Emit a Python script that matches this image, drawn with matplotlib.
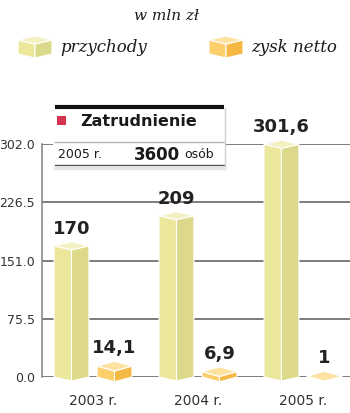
import numpy as np
import matplotlib
matplotlib.use('Agg')
import matplotlib.pyplot as plt
from matplotlib.patches import Polygon, Rectangle

years = ['2003 r.', '2004 r.', '2005 r.']
przychody = [170, 209, 301.6]
zysk = [14.1, 6.9, 1]
przychody_lbl = ['170', '209', '301,6']
zysk_lbl = ['14,1', '6,9', '1']
yticks = [0.0, 75.5, 151.0, 226.5, 302.0]

col_p = ('#ebe79b', '#dcd98a', '#f3f0c2')   # front, side, top
col_z = ('#fccf6a', '#f4b843', '#fde2a0')


def prism(ax, c, hw, y0, y1, d, cols, tr=None, z=3):
    tr = tr if tr is not None else ax.transData
    front, side, top = cols
    left = [(c - hw, y0), (c, y0 - d), (c, y1 - d), (c - hw, y1)]
    right = [(c, y0 - d), (c + hw, y0), (c + hw, y1), (c, y1 - d)]
    cap = [(c - hw, y1), (c, y1 - d), (c + hw, y1), (c, y1 + d)]
    for pts, fc in ((left, front), (right, side), (cap, top)):
        ax.add_patch(Polygon(pts, closed=True, fc=fc, ec='white', lw=0.8,
                             transform=tr, clip_on=False, zorder=z))


fig = plt.figure(figsize=(3.5, 4.13), dpi=100)
ax = fig.add_axes([42 / 350, 36 / 413, 308 / 350, 233 / 413])
ax.set_xlim(-0.486, 2.448)
ax.set_ylim(0, 302)
for s in ['top', 'right', 'bottom']:
    ax.spines[s].set_visible(False)
ax.spines['left'].set_color('#8a8a8a')
ax.spines['left'].set_linewidth(1.2)
ax.set_yticks(yticks)
ax.set_yticklabels(['%.1f' % t for t in yticks], fontsize=9, color='#333333')
ax.tick_params(axis='y', length=0, pad=5)
ax.set_xticks(range(len(years)))
ax.set_xticklabels(years, fontsize=10, color='#333333')
ax.tick_params(axis='x', length=0, pad=12)
for t in yticks:
    ax.axhline(t, color='#666666', lw=1.2, zorder=1)

x = np.arange(len(years))
off = 0.205
hw = 0.166
d = 5.2
for i in range(len(years)):
    prism(ax, x[i] - off, hw, 0, przychody[i], d, col_p)
    prism(ax, x[i] + off, hw, 0, zysk[i], d * 1.2, col_z)
    ax.annotate(przychody_lbl[i], (x[i] - off, przychody[i] + d), xytext=(0, 3),
                textcoords='offset points', ha='center', va='bottom',
                fontsize=13, fontweight='bold', color='#222222', annotation_clip=False)
    ax.annotate(zysk_lbl[i], (x[i] + off, zysk[i] + d * 1.2), xytext=(0, 3),
                textcoords='offset points', ha='center', va='bottom',
                fontsize=13, fontweight='bold', color='#222222', annotation_clip=False)

# overlay in pixel coordinates (y grows downwards)
fa = fig.add_axes([0, 0, 1, 1])
fa.set_xlim(0, 350)
fa.set_ylim(413, 0)
fa.axis('off')
fa.patch.set_alpha(0)

fa.text(167, 16, 'w mln zł', ha='center', va='center', fontsize=11,
        style='italic', family='DejaVu Serif', color='#1a1a1a')
prism(fa, 35, 17, 54, 40, -4, col_p, fa.transData)
prism(fa, 226, 17, 54, 40, -4, col_z, fa.transData)
fa.text(60, 47, 'przychody', ha='left', va='center', fontsize=12,
        style='italic', family='DejaVu Serif', color='#1a1a1a')
fa.text(251, 47, 'zysk netto', ha='left', va='center', fontsize=12,
        style='italic', family='DejaVu Serif', color='#1a1a1a')

# employment box
fa.add_patch(Rectangle((53, 106), 172, 60, fc='white', ec='none', zorder=5))
fa.plot([55, 224], [107, 107], color='#111111', lw=3, zorder=6, solid_capstyle='butt')
fa.plot([55, 224], [142, 142], color='#b5b5b5', lw=1, zorder=6)
fa.plot([55, 224], [165, 165], color='#555555', lw=1, zorder=6)
fa.plot([55, 225], [167.5, 167.5], color='#e6e6e6', lw=2.5, zorder=6)
fa.plot([225, 225], [108, 166], color='#d0d0d0', lw=1, zorder=6)
fa.add_patch(Rectangle((57, 116), 9, 9, fc='#d4324e', ec='none', zorder=7))
fa.text(80, 122, 'Zatrudnienie', ha='left', va='center', fontsize=11.5,
        fontweight='bold', color='#1a1a1a', zorder=7)
fa.text(58, 155, '2005 r.', ha='left', va='center', fontsize=9,
        color='#1a1a1a', zorder=7)
fa.text(180, 155, '3600', ha='right', va='center', fontsize=12,
        fontweight='bold', color='#1a1a1a', zorder=7)
fa.text(184, 155, 'osób', ha='left', va='center', fontsize=9,
        color='#1a1a1a', zorder=7)

fig.savefig('out.png', dpi=100)
